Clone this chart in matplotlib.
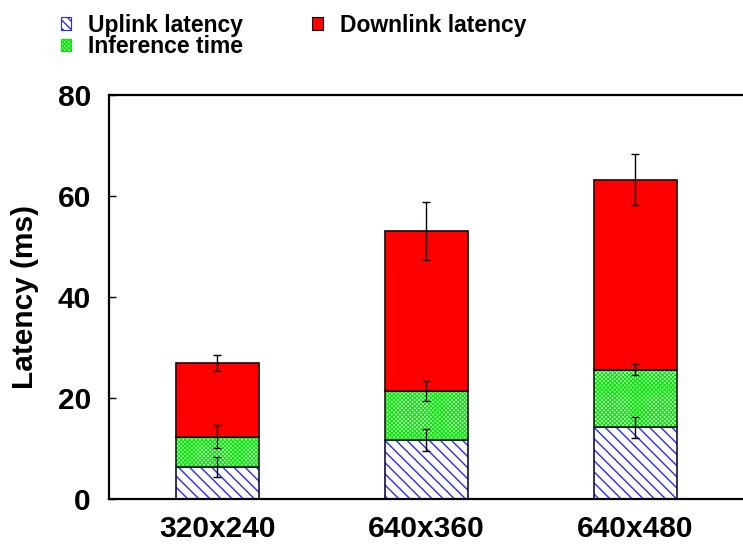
import matplotlib
matplotlib.use('Agg')
import matplotlib.pyplot as plt
from matplotlib.patches import Patch
import numpy as np

resolutions = ['320x240', '640x360', '640x480']
uplink = [6.4, 11.7, 14.2]
inference = [6.0, 9.7, 11.4]
downlink = [14.6, 31.7, 37.6]
uplink_err = [1.9, 2.1, 2.1]
inference_err = [2.3, 2.0, 1.1]
downlink_err = [1.6, 5.7, 5.1]

plt.rcParams['font.family'] = ['Liberation Sans', 'DejaVu Sans']
plt.rcParams['font.weight'] = 'bold'

BLUE = '#2a2aff'
GREEN = '#00ee00'
UP_HATCH = '\\\\\\'
INF_HATCH = 'xxxxxxxx'


def set_hlw(patches, lw):
    for p in patches:
        if hasattr(p, 'set_hatch_linewidth'):
            p.set_hatch_linewidth(lw)


fig = plt.figure(figsize=(7.43, 5.45), dpi=100)
ax = fig.add_axes([109/743, 0.0839, 1 - 109/743 + 0.01, 0.7424])

x = np.arange(len(resolutions))
w = 0.4
up = np.array(uplink)
inf_top = up + np.array(inference)
down_top = inf_top + np.array(downlink)

# uplink: white with blue hatch, black outline drawn on top
with plt.rc_context({'hatch.linewidth': 1.0}):
    b = ax.bar(x, uplink, w, color='white', edgecolor=BLUE, hatch=UP_HATCH, linewidth=0)
set_hlw(b, 1.0)
ax.bar(x, uplink, w, fill=False, edgecolor='#101040', linewidth=1.2)

# inference: green checker
with plt.rc_context({'hatch.linewidth': 0.9}):
    b = ax.bar(x, inference, w, bottom=up, color='white', edgecolor=GREEN, hatch=INF_HATCH, linewidth=0)
set_hlw(b, 0.9)
ax.bar(x, inference, w, bottom=up, fill=False, edgecolor='#102010', linewidth=1.2)

# downlink: solid red
ax.bar(x, downlink, w, bottom=inf_top, color='#ff0000', edgecolor='#200000', linewidth=1.2)

ekw = dict(fmt='none', ecolor='black', elinewidth=1.0, capsize=3, capthick=1.0, zorder=5)
ax.errorbar(x, up, yerr=uplink_err, **ekw)
ax.errorbar(x, inf_top, yerr=inference_err, **ekw)
ax.errorbar(x, down_top, yerr=downlink_err, **ekw)

ax.set_xlim(-0.519, 2.55)
ax.set_ylim(0, 80)
ax.set_yticks([0, 20, 40, 60, 80])
ax.set_xticks(x)
ax.set_xticklabels(resolutions, fontsize=21.5, fontweight='bold')
ax.tick_params(axis='y', direction='in', length=5, width=1, labelsize=21.5, pad=13)
ax.tick_params(axis='x', length=0, pad=11.5)
for s in ['left', 'bottom', 'top']:
    ax.spines[s].set_linewidth(1.6)
ax.spines['right'].set_visible(False)

fig.text(25/743, 0.455, 'Latency (ms)', rotation=90, ha='center', va='center',
         fontsize=21.5, fontweight='bold')

# legend
with plt.rc_context({'hatch.linewidth': 1.0}):
    h_up = Patch(facecolor='white', edgecolor=BLUE, hatch='\\\\\\\\', linewidth=0.8)
with plt.rc_context({'hatch.linewidth': 0.9}):
    h_inf = Patch(facecolor='white', edgecolor=GREEN, hatch=INF_HATCH, linewidth=0.8)
h_down = Patch(facecolor='#ff0000', edgecolor='black', linewidth=0.8)
leg = fig.legend([h_up, h_inf, h_down], ['Uplink latency', 'Inference time', 'Downlink latency'],
                 ncol=2, loc='upper left', bbox_to_anchor=(61/743, 0.975), frameon=False,
                 prop={'weight': 'bold', 'size': 16.5},
                 handlelength=0.45, handleheight=0.45, handletextpad=0.75,
                 columnspacing=3.0, labelspacing=-0.05, borderpad=0, borderaxespad=0)

fig.savefig('out.png', dpi=100)
